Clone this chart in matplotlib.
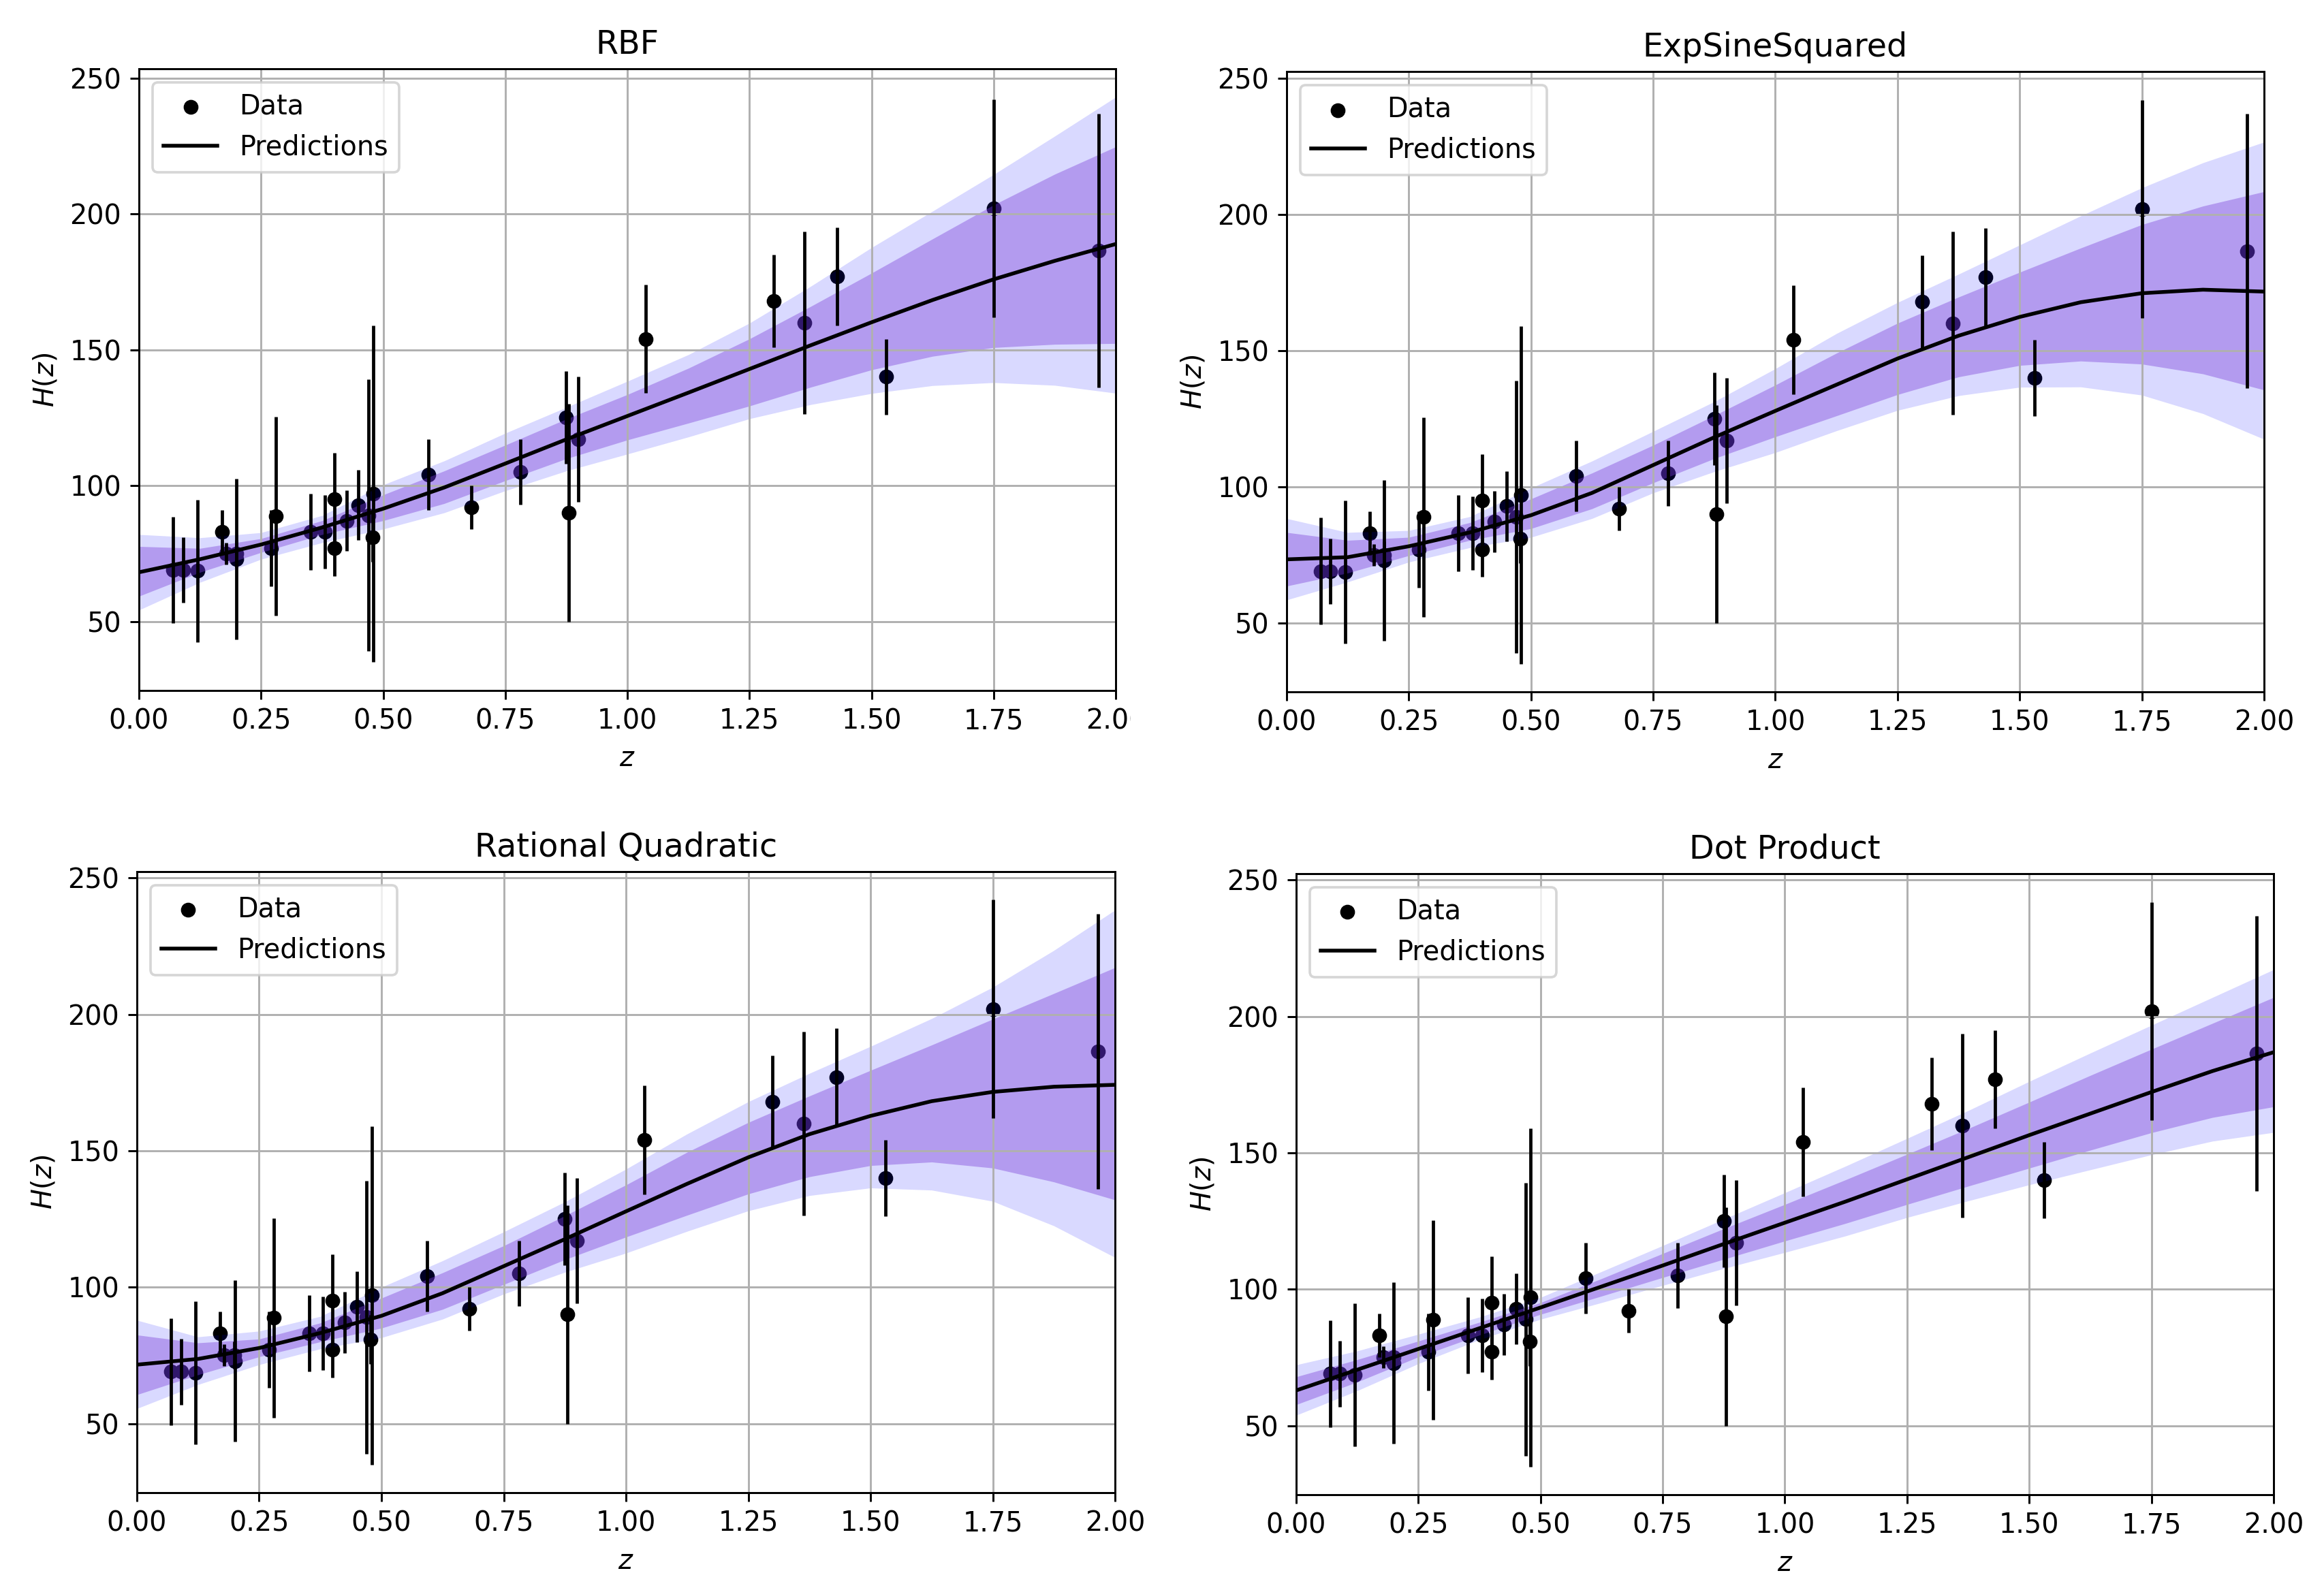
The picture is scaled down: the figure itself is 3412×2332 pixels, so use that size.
import matplotlib
matplotlib.use("Agg")
import matplotlib.pyplot as plt
from matplotlib.patches import Rectangle

plt.rcParams["font.size"] = 10.8

# observed H(z) data
z_obs = [0.07, 0.09, 0.12, 0.17, 0.179, 0.199, 0.2, 0.27, 0.28, 0.352, 0.3802,
         0.4, 0.4004, 0.4247, 0.4497, 0.47, 0.4783, 0.48, 0.593, 0.68, 0.781,
         0.875, 0.88, 0.9, 1.037, 1.3, 1.363, 1.43, 1.53, 1.75, 1.965]
H_obs = [69, 69, 68.6, 83, 75, 75, 72.9, 77, 88.8, 83, 83,
         95, 77, 87.1, 92.8, 89, 80.9, 97, 104, 92, 105,
         125, 90, 117, 154, 168, 160, 177, 140, 202, 186.5]
H_err = [19.6, 12, 26.2, 8, 4, 5, 29.6, 14, 36.6, 14, 13.5,
         17, 10.2, 11.2, 12.9, 50, 9, 62, 13, 8, 12,
         17, 40, 23, 20, 17, 33.6, 18, 14, 40, 50.4]

# prediction grid
z_pred = [0.0, 0.125, 0.25, 0.375, 0.5, 0.625, 0.75, 0.875, 1.0,
          1.125, 1.25, 1.375, 1.5, 1.625, 1.75, 1.875, 2.0]

# RBF
rbf_mean = [68.1, 72.9, 78.3, 84.6, 91.5, 99.3, 108.1, 117.0, 125.6, 134.2, 142.9, 151.6, 160.1, 168.3, 175.9, 182.7, 188.9]
rbf_dhi = [77.6, 76.9, 80.5, 87.1, 96.6, 105.4, 114.9, 124.5, 133.5, 143.2, 154.0, 165.9, 178.2, 190.8, 203.3, 214.6, 224.7]
rbf_dlo = [59.3, 68.1, 75.4, 82.0, 87.1, 93.4, 101.8, 109.9, 116.8, 123.0, 129.3, 136.2, 142.6, 147.6, 150.8, 152.0, 152.3]
rbf_lhi = [82.0, 80.8, 82.7, 89.0, 100.3, 109.1, 119.3, 128.8, 138.4, 148.2, 159.8, 173.3, 187.6, 201.0, 214.5, 228.6, 243.0]
rbf_llo = [54.2, 64.4, 72.9, 79.0, 84.0, 90.0, 98.1, 105.4, 111.6, 117.9, 124.6, 129.8, 133.9, 136.8, 137.9, 136.9, 134.0]

# ExpSineSquared
ess_mean = [73.3, 74.1, 78.1, 83.2, 89.5, 97.7, 107.9, 118.1, 127.8, 137.4, 147.0, 155.4, 162.3, 167.7, 171.0, 172.3, 171.6]
ess_dhi = [83.2, 80.3, 81.4, 86.8, 95.5, 105.0, 115.2, 126.1, 137.3, 149.0, 160.0, 169.6, 178.7, 187.6, 196.2, 203.0, 208.3]
ess_dlo = [63.5, 68.3, 74.7, 80.3, 84.6, 91.9, 101.4, 110.3, 118.3, 126.0, 133.8, 140.3, 144.5, 146.1, 145.0, 141.4, 135.5]
ess_lhi = [88.3, 83.2, 83.9, 89.0, 99.5, 109.4, 120.3, 131.2, 143.3, 156.2, 167.6, 178.0, 188.7, 199.4, 209.7, 218.9, 226.5]
ess_llo = [58.4, 65.0, 72.3, 77.6, 81.4, 88.3, 97.7, 105.5, 112.5, 120.5, 128.0, 133.4, 136.5, 136.6, 133.6, 126.8, 117.4]

# Rational Quadratic
rq_mean = [71.6, 73.7, 77.7, 83.2, 89.5, 97.8, 107.7, 117.6, 127.8, 137.9, 147.6, 156.1, 162.8, 168.2, 171.6, 173.5, 174.2]
rq_dhi = [82.5, 79.6, 81.0, 86.9, 96.0, 105.3, 115.2, 126.2, 137.5, 149.5, 160.4, 170.1, 179.5, 188.8, 198.3, 207.7, 217.2]
rq_dlo = [60.6, 67.9, 74.5, 80.0, 85.0, 91.9, 101.0, 110.1, 118.4, 126.4, 134.2, 140.5, 144.6, 145.9, 143.7, 138.6, 132.0]
rq_lhi = [87.9, 81.8, 83.9, 89.3, 100.0, 109.7, 120.3, 131.3, 143.3, 156.2, 168.0, 178.4, 188.3, 198.5, 210.0, 223.5, 238.3]
rq_llo = [55.5, 64.3, 71.6, 77.4, 81.5, 88.3, 97.5, 105.5, 112.5, 120.5, 128.0, 133.6, 136.4, 135.6, 131.5, 122.5, 110.9]

# Dot Product
dp_mean = [62.9, 70.5, 78.1, 85.7, 93.3, 101.0, 108.7, 116.6, 124.4, 132.2, 140.3, 148.4, 156.5, 164.4, 172.3, 180.0, 186.9]
dp_dhi = [67.9, 74.2, 81.0, 87.9, 95.1, 103.9, 113.1, 122.2, 131.1, 140.2, 149.5, 158.9, 168.6, 178.4, 188.0, 197.5, 207.0]
dp_dlo = [57.7, 66.0, 75.2, 83.2, 90.8, 97.5, 104.3, 111.0, 117.7, 124.2, 131.1, 137.8, 144.4, 151.0, 157.4, 163.0, 166.9]
dp_lhi = [72.3, 77.4, 83.5, 89.8, 97.0, 106.5, 116.0, 125.7, 135.4, 145.2, 155.3, 165.5, 176.2, 186.6, 196.8, 207.0, 217.2]
dp_llo = [53.8, 62.8, 72.7, 81.5, 89.0, 95.1, 101.4, 107.6, 113.5, 119.6, 126.3, 132.4, 138.3, 143.8, 149.3, 154.3, 157.5]

titles = ["RBF", "ExpSineSquared", "Rational Quadratic", "Dot Product"]


def draw_panel(ax, title, mean, dlo, dhi, llo, lhi):
    ax.errorbar(z_obs, H_obs, yerr=H_err, fmt="none", ecolor="k", elinewidth=1.3)
    ax.scatter(z_obs, H_obs, color="k", s=24, label="Data")
    ax.fill_between(z_pred, llo, lhi, color="blue", alpha=0.15, linewidth=0)
    ax.fill_between(z_pred, dlo, dhi, color="#7c3ed9", alpha=0.4, linewidth=0)
    ax.plot(z_pred, mean, color="k", lw=1.5, label="Predictions")
    ax.set_xlim(0, 2)
    ax.set_title(title)
    ax.set_xlabel("$z$")
    ax.set_ylabel("$H(z)$")
    ax.grid(True)
    ax.legend(loc="upper left")


fig = plt.figure(figsize=(3412 / 265, 2332 / 265), dpi=265)
ax1 = fig.add_axes([0.0598, 0.5652, 0.4203, 0.3915])
ax2 = fig.add_axes([0.5536, 0.5643, 0.4206, 0.3906])
ax3 = fig.add_axes([0.0589, 0.0600, 0.4209, 0.3911])
ax4 = fig.add_axes([0.5577, 0.0587, 0.4206, 0.3911])

draw_panel(ax1, titles[0], rbf_mean, rbf_dlo, rbf_dhi, rbf_llo, rbf_lhi)
draw_panel(ax2, titles[1], ess_mean, ess_dlo, ess_dhi, ess_llo, ess_lhi)
draw_panel(ax3, titles[2], rq_mean, rq_dlo, rq_dhi, rq_llo, rq_lhi)
draw_panel(ax4, titles[3], dp_mean, dp_dlo, dp_dhi, dp_llo, dp_lhi)

# the source image cuts off the last tick label of the first panel
fig.add_artist(Rectangle((0.4865, 0.50), 0.03, 0.064, transform=fig.transFigure,
                         facecolor="white", edgecolor="none", zorder=10))

fig.savefig("out.png", dpi=265)
